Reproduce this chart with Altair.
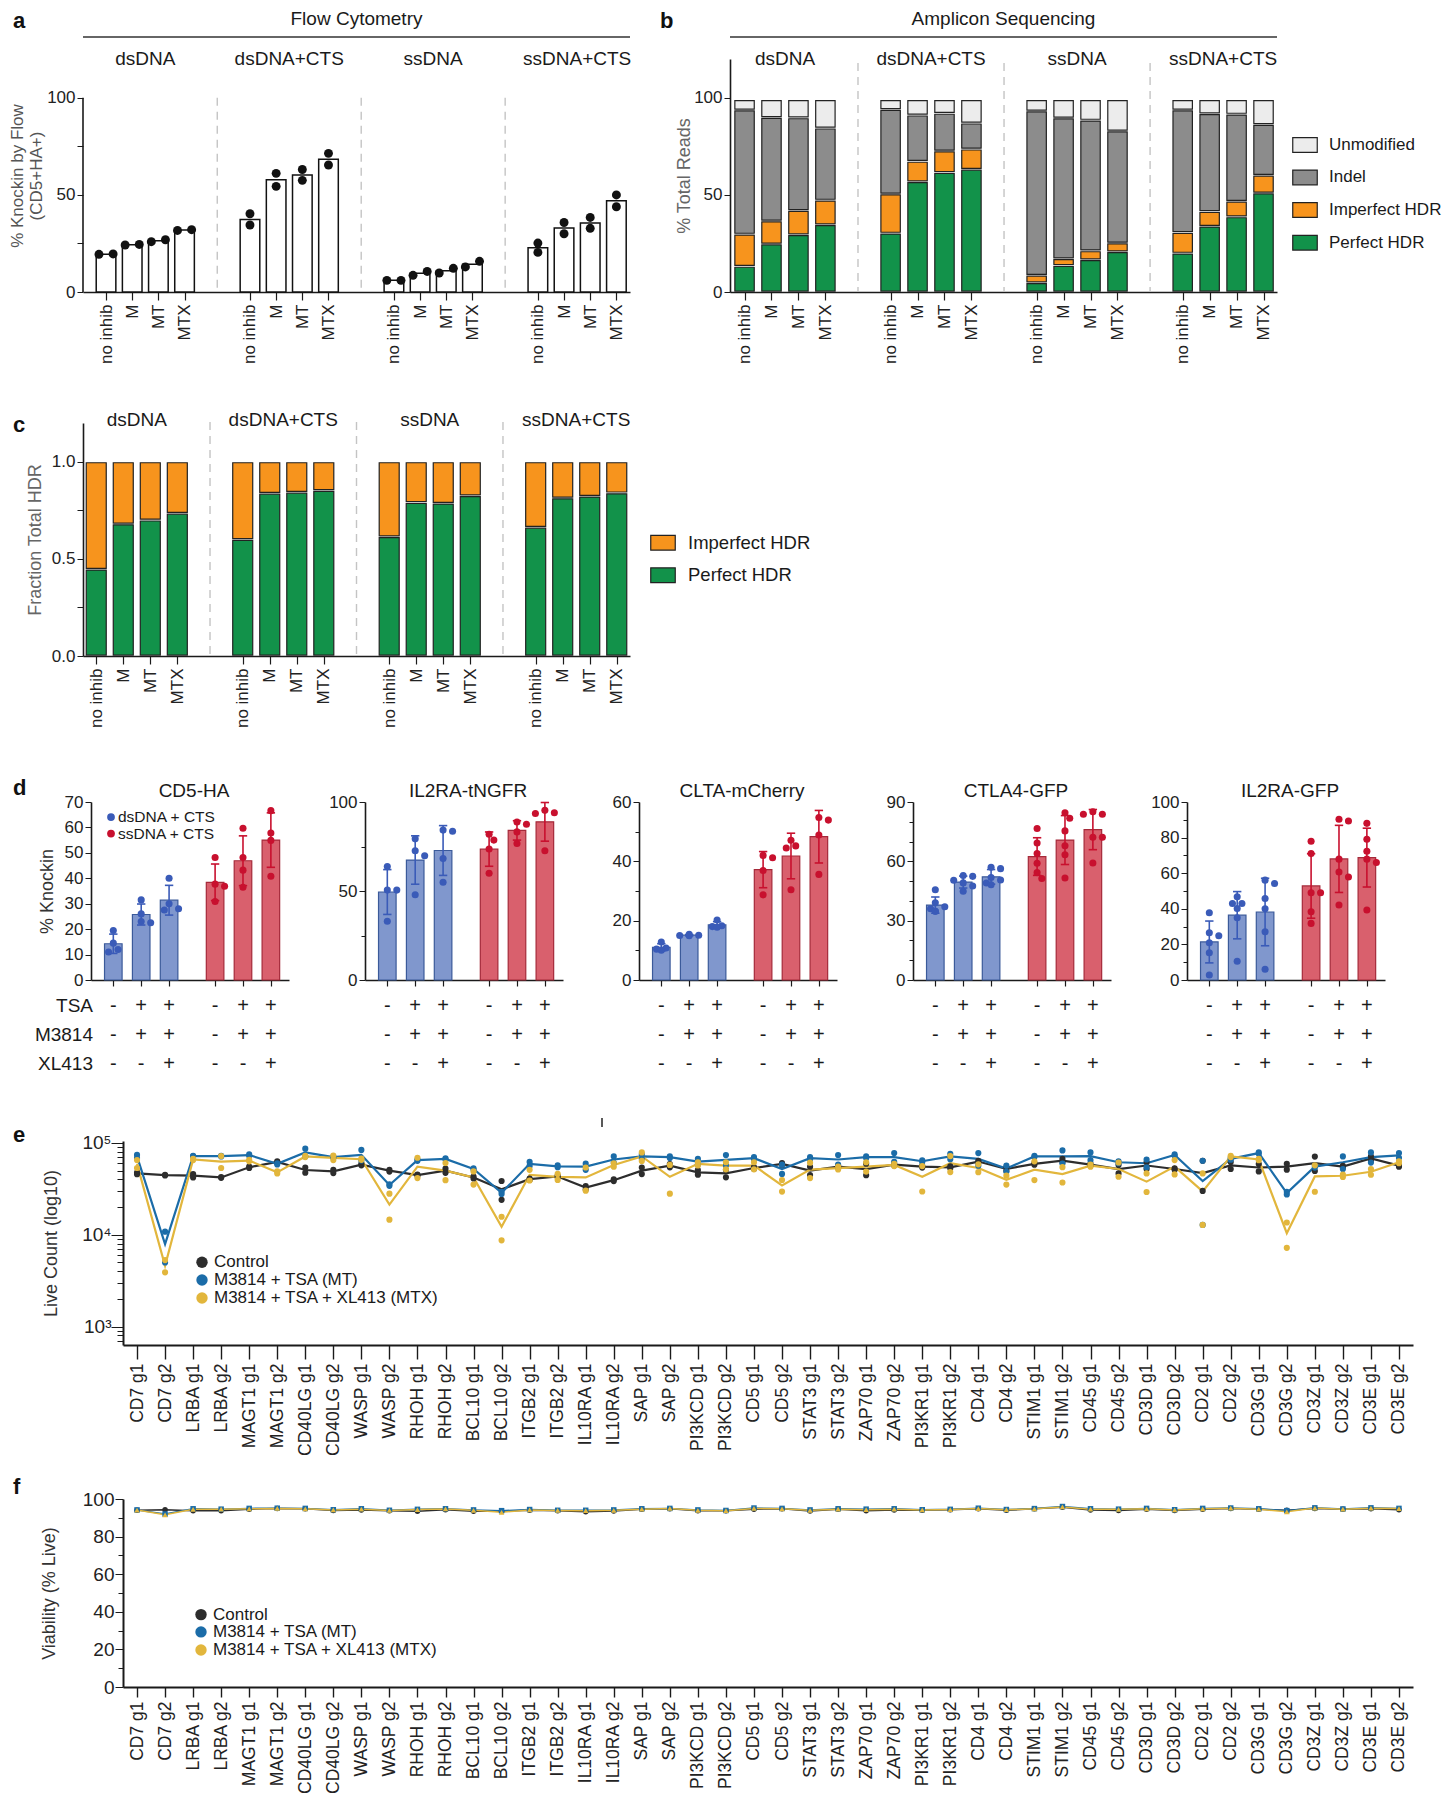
import altair as alt
import pandas as pd

FONT = "Liberation Sans, Arial, Helvetica, sans-serif"

# ---------------------------------------------------------------- data
GROUPS = ["dsDNA", "dsDNA+CTS", "ssDNA", "ssDNA+CTS"]
CONDS = ["no inhib", "M", "MT", "MTX"]

# panel a: % knockin by flow, two replicates per bar (groups x conds)
FLOW_REP1 = [19.4, 24.2, 25.9, 31.7,
             40.3, 61.1, 63.1, 71.4,
             6.0, 8.6, 9.8, 12.9,
             25.2, 35.8, 38.4, 50.0]
FLOW_REP2 = [19.6, 24.5, 26.9, 32.1,
             34.5, 54.4, 57.5, 65.4,
             6.0, 10.6, 12.2, 15.8,
             20.4, 30.0, 32.8, 43.9]

# panel b: amplicon sequencing segments (% total reads)
SEG_B = ["Perfect HDR", "Imperfect HDR", "Indel", "Unmodified"]
SEG_B_COLORS = ["#12924a", "#f7941d", "#8c8c8c", "#ececec"]
PERFECT_B = [13.2, 24.7, 29.5, 34.6, 30.3, 56.8, 61.6, 63.2,
             4.8, 13.7, 16.6, 20.7, 20.0, 33.9, 38.7, 51.0]
IMPERFECT_B = [16.6, 11.9, 12.5, 12.7, 20.2, 10.5, 11.0, 10.4,
               3.8, 3.4, 4.6, 4.5, 10.7, 7.5, 8.0, 9.1]
INDEL_B = [63.9, 53.3, 47.7, 37.1, 43.5, 23.8, 19.4, 13.4,
           84.6, 72.5, 67.3, 57.7, 63.0, 50.4, 44.9, 26.2]
UNMOD_B = [5.3, 9.1, 9.3, 14.6, 5.0, 7.9, 7.0, 12.0,
           5.8, 9.4, 10.5, 16.1, 5.3, 7.2, 7.4, 12.7]

# panel c: fraction of total HDR
PERFECT_C = [0.447, 0.680, 0.700, 0.735, 0.600, 0.838, 0.843, 0.852,
             0.614, 0.790, 0.787, 0.825, 0.663, 0.814, 0.823, 0.840]
IMPERFECT_C = [0.553, 0.320, 0.300, 0.265, 0.400, 0.162, 0.157, 0.148,
               0.386, 0.210, 0.213, 0.175, 0.337, 0.186, 0.177, 0.160]

# panel d: % knockin per locus, replicate values per bar
D_TITLES = ["CD5-HA", "IL2RA-tNGFR", "CLTA-mCherry", "CTLA4-GFP", "IL2RA-GFP"]
D_YMAX = [70, 100, 60, 90, 100]
D_TICK_STEP = [10, 25, 10, 10, 10]
D_LABEL_STEP = [10, 50, 20, 30, 20]
CD5HA_DS = [[19.5, 14.5, 12.0, 11.0], [31.5, 26.0, 23.0, 22.5], [40.0, 30.0, 28.0, 27.5]]
CD5HA_SS = [[48.2, 37.7, 36.9, 30.9], [59.7, 48.2, 43.2, 36.5], [66.6, 57.8, 54.9, 40.8]]
IL2RATNGFR_DS = [[63.7, 50.5, 50.5, 33.0], [79.3, 72.6, 69.8, 47.9], [84.2, 83.6, 68.3, 54.9]]
IL2RATNGFR_SS = [[81.9, 78.6, 73.6, 60.0], [88.8, 87.5, 83.2, 76.7], [95.3, 94.0, 93.5, 72.6]]
CLTA_DS = [[12.8, 10.8, 10.4, 10.0], [15.4, 15.1, 14.9, 15.0], [20.2, 18.3, 18.0, 17.8]]
CLTA_SS = [[42.0, 41.2, 36.9, 28.7], [47.1, 45.2, 44.5, 30.4], [54.8, 53.9, 48.9, 35.6]]
CTLA4_DS = [[45.6, 39.0, 37.0, 36.0, 34.8, 34.8], [52.8, 52.4, 50.4, 49.1, 47.5, 44.9],
            [57.0, 56.3, 51.8, 50.6, 49.0, 48.2]]
CTLA4_SS = [[76.6, 69.3, 64.0, 59.0, 54.3, 51.3], [84.6, 81.8, 75.4, 67.9, 63.3, 51.6],
            [85.1, 83.8, 83.8, 72.2, 72.2, 59.2]]
IL2RAGFP_DS = [[37.8, 26.5, 24.9, 20.9, 15.3, 2.8], [46.7, 43.0, 43.0, 40.2, 35.0, 10.5],
               [56.1, 54.2, 45.8, 40.0, 27.1, 6.0]]
IL2RAGFP_SS = [[77.9, 71.0, 49.0, 49.0, 38.3, 31.8], [90.3, 89.3, 67.9, 60.7, 57.9, 42.1],
               [88.0, 79.1, 72.3, 67.9, 66.0, 39.3]]
D_SETS = [CD5HA_DS + CD5HA_SS, IL2RATNGFR_DS + IL2RATNGFR_SS, CLTA_DS + CLTA_SS,
          CTLA4_DS + CTLA4_SS, IL2RAGFP_DS + IL2RAGFP_SS]
TSA = ["-", "+", "+", "-", "+", "+"]
M3814 = ["-", "+", "+", "-", "+", "+"]
XL413 = ["-", "-", "+", "-", "-", "+"]

# panels e / f
GUIDES = ["CD7 g1", "CD7 g2", "LRBA g1", "LRBA g2", "MAGT1 g1", "MAGT1 g2", "CD40LG g1", "CD40LG g2",
          "WASP g1", "WASP g2", "RHOH g1", "RHOH g2", "BCL10 g1", "BCL10 g2", "ITGB2 g1", "ITGB2 g2",
          "IL10RA g1", "IL10RA g2", "SAP g1", "SAP g2", "PI3KCD g1", "PI3KCD g2", "CD5 g1", "CD5 g2",
          "STAT3 g1", "STAT3 g2", "ZAP70 g1", "ZAP70 g2", "PI3KR1 g1", "PI3KR1 g2", "CD4 g1", "CD4 g2",
          "STIM1 g1", "STIM1 g2", "CD45 g1", "CD45 g2", "CD3D g1", "CD3D g2", "CD2 g1", "CD2 g2",
          "CD3G g1", "CD3G g2", "CD3Z g1", "CD3Z g2", "CD3E g1", "CD3E g2"]
E_CONDS = ["Control", "M3814 + TSA (MT)", "M3814 + TSA + XL413 (MTX)"]
E_COLORS = ["#2d2d2d", "#1b6ca8", "#e2b63c"]
# live counts in thousands, two replicates per condition
E_CTRL_R1 = [47.5, 45.0, 45.9, 42.5, 55.2, 63.2, 54.0, 51.0,
             59.2, 51.0, 45.2, 52.5, 43.1, 38.5, 41.0, 44.0,
             34.0, 40.2, 54.0, 59.0, 50.5, 51.0, 54.5, 60.5,
             55.0, 56.5, 59.5, 59.5, 56.5, 55.5, 64.0, 54.3,
             60.5, 67.0, 59.5, 57.4, 61.6, 53.0, 64.0, 62.0,
             59.0, 59.2, 71.0, 56.5, 71.3, 58.0]
E_CTRL_R2 = [45.7, 44.2, 42.1, 41.7, 53.4, 61.2, 47.4, 47.0,
             57.0, 48.8, 44.0, 47.3, 41.1, 24.0, 39.6, 42.2,
             31.2, 38.4, 45.8, 54.2, 45.1, 42.2, 52.1, 57.9,
             44.8, 53.9, 44.5, 56.7, 53.9, 53.1, 61.4, 49.9,
             57.9, 61.6, 56.7, 46.6, 52.0, 51.0, 30.0, 52.0,
             49.0, 51.2, 49.5, 53.9, 64.3, 55.2]
E_MT_R1 = [74.0, 10.8, 72.5, 72.5, 75.0, 60.1, 86.7, 71.0,
           84.0, 35.5, 66.0, 68.0, 53.0, 29.4, 62.2, 57.0,
           59.5, 71.3, 75.0, 71.5, 67.0, 73.8, 70.0, 58.0,
           70.0, 73.8, 71.3, 77.6, 64.5, 76.2, 77.6, 56.6,
           72.5, 83.0, 78.9, 63.0, 66.0, 75.0, 64.0, 68.5,
           79.0, 29.4, 56.5, 71.3, 78.9, 77.6]
E_MT_R2 = [68.6, 5.0, 71.3, 71.3, 72.6, 58.3, 71.1, 69.0,
           64.4, 34.1, 63.8, 66.2, 51.0, 27.8, 56.2, 54.4,
           51.0, 60.7, 67.6, 68.5, 58.4, 57.2, 66.6, 46.0,
           66.6, 58.2, 68.7, 62.4, 61.9, 66.4, 56.6, 48.5,
           70.1, 59.6, 64.9, 60.2, 54.2, 72.6, 12.8, 65.7,
           76.2, 27.5, 53.9, 51.9, 61.1, 68.9]
E_MTX_R1 = [65.0, 5.3, 67.0, 72.0, 65.5, 49.0, 72.5, 72.7,
            67.5, 28.0, 69.0, 60.5, 49.0, 15.7, 51.0, 46.0,
            54.0, 60.1, 78.9, 57.6, 61.6, 61.6, 61.6, 39.5,
            61.0, 55.2, 61.6, 59.2, 56.0, 72.0, 58.5, 44.0,
            63.0, 54.5, 58.0, 61.2, 46.6, 65.0, 46.6, 72.5,
            67.1, 13.6, 57.0, 45.2, 52.0, 63.2]
E_MTX_R2 = [53.4, 3.9, 65.0, 53.4, 63.1, 46.6, 70.1, 65.1,
            65.5, 14.6, 41.4, 39.3, 35.2, 8.7, 39.0, 39.6,
            30.2, 55.1, 63.7, 28.0, 56.8, 51.6, 51.6, 29.5,
            41.4, 51.4, 48.8, 56.0, 29.6, 48.2, 48.1, 35.2,
            39.4, 37.1, 55.2, 42.8, 29.2, 45.4, 12.8, 70.1,
            64.9, 7.2, 29.4, 42.6, 45.0, 60.1]
F_CTRL = [94.0, 94.3, 93.8, 93.8, 94.6, 95.0, 94.8, 93.9,
          94.2, 93.8, 93.5, 94.3, 93.5, 93.5, 94.0, 93.8,
          93.2, 93.6, 94.5, 94.8, 93.8, 93.8, 94.6, 94.8,
          93.6, 94.5, 93.7, 94.2, 94.0, 94.3, 94.8, 94.0,
          94.8, 95.6, 94.2, 93.9, 94.6, 93.9, 94.5, 95.0,
          94.5, 94.0, 95.0, 94.5, 94.8, 94.3]
F_MT = [94.2, 92.0, 94.8, 94.6, 95.0, 95.1, 95.0, 94.3,
        94.8, 94.0, 94.5, 94.8, 94.2, 93.8, 94.4, 94.0,
        94.0, 94.2, 94.8, 95.0, 94.2, 93.9, 95.2, 95.0,
        94.2, 94.8, 94.6, 94.8, 94.3, 94.5, 95.1, 94.4,
        94.9, 96.0, 94.8, 94.6, 95.0, 94.3, 95.0, 95.2,
        94.8, 93.8, 95.3, 94.7, 95.3, 95.0]
F_MTX = [94.1, 91.6, 94.5, 94.6, 94.8, 95.0, 94.8, 94.2,
         94.6, 93.9, 94.4, 94.7, 94.0, 92.9, 94.2, 93.9,
         93.8, 94.0, 94.6, 95.0, 94.0, 93.8, 95.0, 94.8,
         94.0, 94.6, 94.3, 94.6, 94.2, 94.4, 94.9, 94.3,
         94.8, 95.8, 94.6, 94.5, 94.8, 94.2, 94.8, 95.1,
         94.6, 93.2, 95.2, 94.6, 95.1, 94.9]

# ---------------------------------------------------------------- helpers
ONE = pd.DataFrame({"k": [0]})
PAGE_L, PAGE_R = 8, 1436   # left / right edge of every row's frame (page px)


def T(**kw):
    d = dict(font=FONT, color="#1a1a1a")
    d.update(kw)
    return d


def label_text(txt, x, y, **kw):
    return alt.Chart(ONE).mark_text(**T(**kw)).encode(
        x=alt.value(x), y=alt.value(y), text=alt.value(txt))


def letter(ch, x, y):
    return label_text(ch, x, y, fontSize=22, fontWeight="bold", align="left", baseline="middle", color="#111")


def spacer(w, h):
    return alt.Chart(ONE).mark_point(opacity=0).encode(
        x=alt.value(0), y=alt.value(0)).properties(width=w, height=h)


def frame(ox, oy, top, bottom):
    """invisible rectangle fixing a row's bounding box (page coords), origin at (ox, oy)"""
    return alt.Chart(ONE).mark_rect(opacity=0).encode(
        x=alt.value(PAGE_L - ox), x2=alt.value(PAGE_R - ox),
        y=alt.value(top - oy), y2=alt.value(bottom - oy))


def grouped_x(gstep, left, right):
    vals = [round(g * gstep + i, 3) for g in range(4) for i in range(4)]
    scale = alt.Scale(domain=[-left, 3 * gstep + 3 + right], nice=False, zero=False)
    expr = ("['no inhib','M','MT','MTX'][round(datum.value - floor((datum.value + 0.5) / %s) * %s)]"
            % (gstep, gstep))
    axis = alt.Axis(values=vals, labelExpr=expr, labelAngle=-90, labelFontSize=17, labelPadding=4,
                    tickSize=8, tickWidth=1.2, domainWidth=1.6, title=None, labelColor="#222")
    return vals, scale, axis


def headers(gstep, xs, xax, y):
    df = pd.DataFrame({"g": GROUPS, "gx": [g * gstep + 1.5 for g in range(4)]})
    return alt.Chart(df).mark_text(**T(fontSize=19, baseline="middle")).encode(
        x=alt.X("gx:Q", scale=xs, axis=xax), y=alt.value(y), text="g:N")


# page positions of plot origins (every row starts at x = X0)
X0 = 78
AX0, AY0 = 78, 59       # panel a (b is 100 px right of a)
CX0, CY0 = 78, 423      # panel c
DX0, DY0 = 86, 802      # first panel of d
D_GAP = 76
EX0, EY0 = 118, 1141    # panel e
FX0, FY0 = 118, 1499    # panel f
ROW_BANDS = [(8, 380), (380, 740), (740, 1100), (1100, 1468), (1468, 1790)]
LETTER_X = 8

W3, H3 = 547, 233

# ---------------------------------------------------------------- panel a
GA = 5.5
pos_a, XS_A, XAX_A = grouped_x(GA, 0.88, 0.52)
rows = []
for k in range(16):
    r1, r2 = FLOW_REP1[k], FLOW_REP2[k]
    side = abs(r1 - r2) < 4.5
    rows.append(dict(pos=pos_a[k], px=pos_a[k] - (0.27 if side else 0), val=min(r1, r2)))
    rows.append(dict(pos=pos_a[k], px=pos_a[k] + (0.27 if side else 0), val=max(r1, r2)))
df_a = pd.DataFrame(rows)
YS_A = alt.Scale(domain=[0, 120], nice=False)
YAX_A = alt.Axis(values=[0, 25, 50, 75, 100], labelExpr="datum.value % 50 == 0 ? datum.label : ''",
                 domain=False, tickSize=6, labelPadding=2, labelFontSize=17,
                 title=["% Knockin by Flow", "(CD5+HA+)"], titleFontSize=17, titlePadding=1,
                 titleColor="#555")

a_sep = alt.Chart(pd.DataFrame({"sx": [g * GA + 4.25 for g in range(3)]})).mark_rule(
    color="#c4c4c4", strokeDash=[8, 6], strokeWidth=1.4).encode(
    x=alt.X("sx:Q", scale=XS_A, axis=XAX_A), y=alt.datum(100), y2=alt.datum(0))
a_bars = alt.Chart(df_a).transform_aggregate(
    m="mean(val)", groupby=["pos"]).transform_calculate(
    x1="datum.pos - 0.375", x2="datum.pos + 0.375").mark_bar(
    fill="white", stroke="#111", strokeWidth=1.5).encode(
    x=alt.X("x1:Q", scale=XS_A, axis=XAX_A), x2="x2:Q",
    y=alt.Y("m:Q", scale=YS_A, axis=YAX_A), y2=alt.datum(0))
a_axline = alt.Chart(ONE).mark_rule(color="#1a1a1a", strokeWidth=1.6).encode(
    x=alt.value(0), y=alt.datum(0), y2=alt.datum(100))
a_pts = alt.Chart(df_a).mark_circle(size=80, color="#111", opacity=1).encode(
    x=alt.X("px:Q", scale=XS_A, axis=XAX_A), y=alt.Y("val:Q", scale=YS_A, axis=YAX_A))
chart_a = alt.layer(
    frame(AX0, AY0, *ROW_BANDS[0]),
    a_sep, a_bars, a_axline, a_pts, headers(GA, XS_A, XAX_A, 0),
    label_text("Flow Cytometry", W3 / 2, -40, fontSize=19, baseline="middle"),
    alt.Chart(ONE).mark_rule(color="#333", strokeWidth=1.6).encode(
        x=alt.value(0), x2=alt.value(W3), y=alt.value(-22)),
    letter("a", LETTER_X - AX0, -38),
).properties(width=W3, height=H3)

# ---------------------------------------------------------------- panel b
GB = 5.42
pos_b, XS_B, XAX_B = grouped_x(GB, 0.54, 0.5)
rows = []
for k in range(16):
    for o, (seg, arr) in enumerate(zip(SEG_B, [PERFECT_B, IMPERFECT_B, INDEL_B, UNMOD_B])):
        rows.append(dict(pos=pos_b[k], seg=seg, ord=o, val=arr[k]))
df_b = pd.DataFrame(rows)
YS_B = alt.Scale(domain=[0, 120], nice=False)
YAX_B = alt.Axis(values=[0, 50, 100], tickSize=6, labelPadding=2, labelFontSize=17,
                 title="% Total Reads", titleFontSize=18, titlePadding=0, titleColor="#666",
                 domainWidth=1.6)
CS_B = alt.Scale(domain=SEG_B, range=SEG_B_COLORS)
b_sep = alt.Chart(pd.DataFrame({"sx": [g * GB + 4.21 for g in range(3)]})).mark_rule(
    color="#c4c4c4", strokeDash=[8, 6], strokeWidth=1.4).encode(
    x=alt.X("sx:Q", scale=XS_B, axis=XAX_B), y=alt.value(4), y2=alt.value(H3))
b_bars = alt.Chart(df_b).transform_stack(
    stack="val", groupby=["pos"], as_=["y0", "y1"], sort=[alt.SortField("ord", order="ascending")]
).transform_calculate(x1="datum.pos - 0.36", x2="datum.pos + 0.36").mark_bar(
    stroke="#222", strokeWidth=1.2, yOffset=-0.9, y2Offset=0.9).encode(
    x=alt.X("x1:Q", scale=XS_B, axis=XAX_B), x2="x2:Q",
    y=alt.Y("y0:Q", scale=YS_B, axis=YAX_B), y2="y1:Q",
    color=alt.Color("seg:N", scale=CS_B, legend=None))
leg_b = pd.DataFrame({"seg": ["Unmodified", "Indel", "Imperfect HDR", "Perfect HDR"],
                      "ly": [75.7, 59.0, 42.2, 25.4]})
RECT = "M-1,-0.6L1,-0.6L1,0.6L-1,0.6Z"
b_leg_sym = alt.Chart(leg_b).mark_point(shape=RECT, filled=True, size=600, stroke="#222",
                                         strokeWidth=1.2, opacity=1).encode(
    x=alt.value(575), y=alt.Y("ly:Q", scale=YS_B, axis=YAX_B),
    color=alt.Color("seg:N", scale=CS_B, legend=None))
b_leg_txt = alt.Chart(leg_b).mark_text(**T(fontSize=17, align="left", baseline="middle")).encode(
    x=alt.value(599), y=alt.Y("ly:Q", scale=YS_B, axis=YAX_B), text="seg:N")
chart_b = alt.layer(
    b_sep, b_bars, headers(GB, XS_B, XAX_B, 0), b_leg_sym, b_leg_txt,
    label_text("Amplicon Sequencing", W3 / 2, -40, fontSize=19, baseline="middle"),
    alt.Chart(ONE).mark_rule(color="#333", strokeWidth=1.6).encode(
        x=alt.value(0), x2=alt.value(W3), y=alt.value(-22)),
    letter("b", -70, -38),
).properties(width=W3, height=H3)

# ---------------------------------------------------------------- panel c
GC = 5.42
pos_c, XS_C, XAX_C = grouped_x(GC, 0.49, 0.49)
SEG_C = ["Perfect HDR", "Imperfect HDR"]
rows = []
for k in range(16):
    rows.append(dict(pos=pos_c[k], seg="Perfect HDR", ord=0, val=PERFECT_C[k]))
    rows.append(dict(pos=pos_c[k], seg="Imperfect HDR", ord=1, val=IMPERFECT_C[k]))
df_c = pd.DataFrame(rows)
YS_C = alt.Scale(domain=[0, 1.2], nice=False)
YAX_C = alt.Axis(values=[0, 0.25, 0.5, 0.75, 1.0], format=".1f",
                 labelExpr="datum.value == 0.25 || datum.value == 0.75 ? '' : datum.label",
                 tickSize=6, labelPadding=2, labelFontSize=17, title="Fraction Total HDR",
                 titleFontSize=18, titlePadding=7, titleColor="#666", domainWidth=1.6)
CS_C = alt.Scale(domain=SEG_C, range=["#12924a", "#f7941d"])
c_sep = alt.Chart(pd.DataFrame({"sx": [g * GC + 4.21 for g in range(3)]})).mark_rule(
    color="#c4c4c4", strokeDash=[8, 6], strokeWidth=1.4).encode(
    x=alt.X("sx:Q", scale=XS_C, axis=XAX_C), y=alt.value(-1), y2=alt.value(H3))
c_bars = alt.Chart(df_c).transform_stack(
    stack="val", groupby=["pos"], as_=["y0", "y1"], sort=[alt.SortField("ord", order="ascending")]
).transform_calculate(x1="datum.pos - 0.37", x2="datum.pos + 0.37").mark_bar(
    stroke="#222", strokeWidth=1.2, yOffset=-0.9, y2Offset=0.9).encode(
    x=alt.X("x1:Q", scale=XS_C, axis=XAX_C), x2="x2:Q",
    y=alt.Y("y0:Q", scale=YS_C, axis=YAX_C), y2="y1:Q",
    color=alt.Color("seg:N", scale=CS_C, legend=None))
leg_c = pd.DataFrame({"seg": ["Imperfect HDR", "Perfect HDR"], "ly": [0.583, 0.416]})
c_leg_sym = alt.Chart(leg_c).mark_point(shape=RECT, filled=True, size=600, stroke="#222",
                                         strokeWidth=1.2, opacity=1).encode(
    x=alt.value(580), y=alt.Y("ly:Q", scale=YS_C, axis=YAX_C),
    color=alt.Color("seg:N", scale=CS_C, legend=None))
c_leg_txt = alt.Chart(leg_c).mark_text(**T(fontSize=18.5, align="left", baseline="middle")).encode(
    x=alt.value(605), y=alt.Y("ly:Q", scale=YS_C, axis=YAX_C), text="seg:N")
chart_c = alt.layer(
    frame(CX0, CY0, *ROW_BANDS[1]),
    c_sep, c_bars, headers(GC, XS_C, XAX_C, -3), c_leg_sym, c_leg_txt,
    letter("c", LETTER_X - CX0, 2),
).properties(width=W3, height=H3)

# ---------------------------------------------------------------- panel d
D_POS = [0, 1, 2, 3.65, 4.65, 5.65]
WD, HD = 198, 178
XS_D = alt.Scale(domain=[-0.8, 6.3], nice=False, zero=False)
XAX_D = alt.Axis(values=D_POS, labels=False, tickSize=6, tickWidth=1.2, domainWidth=1.6, title=None)
DGRP = ["dsDNA + CTS", "ssDNA + CTS"]
C_PT = alt.Scale(domain=DGRP, range=["#3a5bb8", "#c8102e"])
C_FILL = alt.Scale(domain=DGRP, range=["#8097cd", "#d9606d"])
C_STROKE = alt.Scale(domain=DGRP, range=["#3b5a9a", "#a52a3a"])


def d_panel(i):
    ymax = D_YMAX[i]
    ppu = HD / ymax
    step_px = WD / 7.1
    rows = []
    for j, reps in enumerate(D_SETS[i]):
        grp = DGRP[0] if j < 3 else DGRP[1]
        placed = []
        for v in sorted(reps, reverse=True):
            chosen = 0
            for off in (0, 0.17, -0.17, 0.34, -0.34):
                if all(((off - po) * step_px) ** 2 + ((v - pv) * ppu) ** 2 >= 7.0 ** 2
                       for po, pv in placed):
                    chosen = off
                    break
            placed.append((chosen, v))
            rows.append(dict(pos=D_POS[j], px=D_POS[j] + chosen, val=v, grp=grp))
    df = pd.DataFrame(rows)
    ticks = list(range(0, ymax + 1, D_TICK_STEP[i]))
    lstep = D_LABEL_STEP[i]
    ys = alt.Scale(domain=[0, ymax], nice=False)
    yax = alt.Axis(values=ticks, labelExpr="datum.value %% %d == 0 ? datum.label : ''" % lstep,
                   tickSize={"condition": {"test": "datum.value %% %d == 0" % lstep, "value": 6},
                             "value": 4},
                   labelPadding=2, labelFontSize=17, domainWidth=1.6,
                   title="% Knockin" if i == 0 else None, titleFontSize=18, titlePadding=8,
                   titleColor="#333")
    agg = alt.Chart(df).transform_aggregate(
        m="mean(val)", s="stdev(val)", groupby=["pos", "grp"]).transform_calculate(
        x1="datum.pos - 0.315", x2="datum.pos + 0.315", lo="datum.m - datum.s",
        hi="datum.m + datum.s", c1="datum.pos - 0.15", c2="datum.pos + 0.15")
    bars = agg.mark_bar(strokeWidth=1.2).encode(
        x=alt.X("x1:Q", scale=XS_D, axis=XAX_D), x2="x2:Q",
        y=alt.Y("m:Q", scale=ys, axis=yax), y2=alt.datum(0),
        fill=alt.Fill("grp:N", scale=C_FILL, legend=None),
        stroke=alt.Stroke("grp:N", scale=C_STROKE, legend=None))
    err = agg.mark_rule(strokeWidth=1.6).encode(
        x=alt.X("pos:Q", scale=XS_D, axis=XAX_D), y=alt.Y("lo:Q", scale=ys, axis=yax), y2="hi:Q",
        color=alt.Color("grp:N", scale=C_PT, legend=None))
    cap_hi = agg.mark_rule(strokeWidth=1.6).encode(
        x=alt.X("c1:Q", scale=XS_D, axis=XAX_D), x2="c2:Q", y=alt.Y("hi:Q", scale=ys, axis=yax),
        color=alt.Color("grp:N", scale=C_PT, legend=None))
    cap_lo = agg.mark_rule(strokeWidth=1.6).encode(
        x=alt.X("c1:Q", scale=XS_D, axis=XAX_D), x2="c2:Q", y=alt.Y("lo:Q", scale=ys, axis=yax),
        color=alt.Color("grp:N", scale=C_PT, legend=None))
    pts = alt.Chart(df).mark_circle(size=50, opacity=1).encode(
        x=alt.X("px:Q", scale=XS_D, axis=XAX_D), y=alt.Y("val:Q", scale=ys, axis=yax),
        color=alt.Color("grp:N", scale=C_PT, legend=None))
    layers = []
    if i == 0:
        layers.append(frame(DX0, DY0, *ROW_BANDS[2]))
    layers += [bars, err, cap_hi, cap_lo, pts,
               label_text(D_TITLES[i], WD / 2 + 4, -11, fontSize=19, baseline="middle")]
    for lab, syms, dy in (("TSA", TSA, 26), ("M3814", M3814, 55), ("XL413", XL413, 84)):
        sdf = pd.DataFrame({"pos": D_POS, "sym": syms})
        layers.append(alt.Chart(sdf).mark_text(**T(fontSize=20, baseline="middle")).encode(
            x=alt.X("pos:Q", scale=XS_D, axis=XAX_D), y=alt.value(HD + dy), text="sym:N"))
        if i == 0:
            layers.append(label_text(lab, 2, HD + dy, fontSize=19, align="right", baseline="middle"))
    if i == 0:
        leg = pd.DataFrame({"grp": DGRP, "ly": [64.1, 57.6]})
        layers.append(alt.Chart(leg).mark_circle(size=60, opacity=1).encode(
            x=alt.value(20), y=alt.Y("ly:Q", scale=ys, axis=yax),
            color=alt.Color("grp:N", scale=C_PT, legend=None)))
        layers.append(alt.Chart(leg).mark_text(**T(fontSize=15.5, align="left", baseline="middle")).encode(
            x=alt.value(27), y=alt.Y("ly:Q", scale=ys, axis=yax), text="grp:N"))
        layers.append(letter("d", LETTER_X - DX0, -14))
    return alt.layer(*layers).properties(width=WD, height=HD)


# ---------------------------------------------------------------- panels e, f
WE = 1290
HE, HF = 204, 188
rows = []
for idx, g in enumerate(GUIDES):
    for cond, r1, r2 in ((E_CONDS[0], E_CTRL_R1, E_CTRL_R2), (E_CONDS[1], E_MT_R1, E_MT_R2),
                         (E_CONDS[2], E_MTX_R1, E_MTX_R2)):
        rows.append(dict(guide=g, idx=idx, cond=cond, val=r1[idx] * 1000))
        rows.append(dict(guide=g, idx=idx, cond=cond, val=r2[idx] * 1000))
df_e = pd.DataFrame(rows)
CE = alt.Scale(domain=E_CONDS, range=E_COLORS)
XS_E = alt.Scale(type="point", padding=0.5, domain=GUIDES)


def guide_axis(ts):
    return alt.Axis(labelAngle=-90, labelFontSize=17.5, tickSize=ts, tickWidth=1.4, labelPadding=4,
                    domainWidth=2, title=None, labelColor="#222")


XAX_E = guide_axis(14)
E_TICKS = [700, 800, 900] + [k * 1000 for k in range(1, 10)] + [k * 10000 for k in range(1, 10)] + [100000]
YS_E = alt.Scale(type="log", domain=[630, 105000], nice=False)
YAX_E = alt.Axis(values=E_TICKS,
                 labelExpr="datum.value == 1000 ? '10³' : datum.value == 10000 ? '10⁴' : "
                           "datum.value == 100000 ? '10⁵' : ''",
                 tickSize={"condition": {"test": "datum.value == 1000 || datum.value == 10000 || "
                                                 "datum.value == 100000", "value": 12}, "value": 6},
                 labelPadding=0, labelFontSize=19, domainWidth=2, title="Live Count (log10)",
                 titleFontSize=18, titlePadding=21, titleColor="#333")
e_lines = alt.Chart(df_e).mark_line(strokeWidth=2.2).encode(
    x=alt.X("guide:N", scale=XS_E, axis=XAX_E, sort=GUIDES),
    y=alt.Y("mean(val):Q", scale=YS_E, axis=YAX_E),
    color=alt.Color("cond:N", scale=CE, legend=None), order=alt.Order("idx:Q"))
e_pts = alt.Chart(df_e).mark_circle(size=38, opacity=1).encode(
    x=alt.X("guide:N", scale=XS_E, axis=XAX_E, sort=GUIDES),
    y=alt.Y("val:Q", scale=YS_E, axis=YAX_E),
    color=alt.Color("cond:N", scale=CE, legend=None))
leg_e = pd.DataFrame({"cond": E_CONDS, "ly": [5010, 3213, 2051]})
e_leg_sym = alt.Chart(leg_e).mark_circle(size=130, opacity=1).encode(
    x=alt.value(79), y=alt.Y("ly:Q", scale=YS_E, axis=YAX_E),
    color=alt.Color("cond:N", scale=CE, legend=None))
e_leg_txt = alt.Chart(leg_e).mark_text(**T(fontSize=17, align="left", baseline="middle")).encode(
    x=alt.value(91), y=alt.Y("ly:Q", scale=YS_E, axis=YAX_E), text="cond:N")
chart_e = alt.layer(
    frame(EX0, EY0, *ROW_BANDS[3]),
    e_lines, e_pts, e_leg_sym, e_leg_txt,
    alt.Chart(ONE).mark_rule(color="#222", strokeWidth=1.5).encode(
        x=alt.value(479), y=alt.value(-23), y2=alt.value(-14)),
    letter("e", LETTER_X - EX0, -6),
).properties(width=WE, height=HE)

rows = []
for idx, g in enumerate(GUIDES):
    for cond, arr in zip(E_CONDS, [F_CTRL, F_MT, F_MTX]):
        rows.append(dict(guide=g, idx=idx, cond=cond, val=arr[idx]))
df_f = pd.DataFrame(rows)
XAX_F = guide_axis(10)
YS_F = alt.Scale(domain=[0, 100], nice=False)
YAX_F = alt.Axis(values=list(range(0, 101, 10)),
                 labelExpr="datum.value % 20 == 0 ? datum.label : ''",
                 tickSize={"condition": {"test": "datum.value % 20 == 0", "value": 8}, "value": 5},
                 labelPadding=1, labelFontSize=19, domainWidth=2, title="Viability (% Live)",
                 titleFontSize=18, titlePadding=24, titleColor="#333")
SH_F = alt.Scale(domain=E_CONDS, range=["circle", "square", "triangle-up"])
f_lines = alt.Chart(df_f).mark_line(strokeWidth=1.5).encode(
    x=alt.X("guide:N", scale=XS_E, axis=XAX_F, sort=GUIDES),
    y=alt.Y("val:Q", scale=YS_F, axis=YAX_F),
    color=alt.Color("cond:N", scale=CE, legend=None), order=alt.Order("idx:Q"))
f_pts = alt.Chart(df_f).mark_point(size=30, filled=True, opacity=1).encode(
    x=alt.X("guide:N", scale=XS_E, axis=XAX_F, sort=GUIDES),
    y=alt.Y("val:Q", scale=YS_F, axis=YAX_F),
    color=alt.Color("cond:N", scale=CE, legend=None),
    shape=alt.Shape("cond:N", scale=SH_F, legend=None))
leg_f = pd.DataFrame({"cond": E_CONDS, "ly": [38.5, 29.3, 19.7]})
f_leg_sym = alt.Chart(leg_f).mark_circle(size=130, opacity=1).encode(
    x=alt.value(78), y=alt.Y("ly:Q", scale=YS_F, axis=YAX_F),
    color=alt.Color("cond:N", scale=CE, legend=None))
f_leg_txt = alt.Chart(leg_f).mark_text(**T(fontSize=17, align="left", baseline="middle")).encode(
    x=alt.value(90), y=alt.Y("ly:Q", scale=YS_F, axis=YAX_F), text="cond:N")
chart_f = alt.layer(
    frame(FX0, FY0, *ROW_BANDS[4]),
    f_lines, f_pts, f_leg_sym, f_leg_txt, letter("f", LETTER_X - FX0, -12),
).properties(width=WE, height=HF)

# ---------------------------------------------------------------- layout
# every row starts with its plot origin at page x = X0; leading spacers shift the panels
row1 = alt.hconcat(chart_a, spacer(100, 1), chart_b, spacing=0, bounds="flush")
d_items = [spacer(DX0 - X0, 1)]
for i in range(5):
    if i > 0:
        d_items.append(spacer(D_GAP, 1))
    d_items.append(d_panel(i))
row3 = alt.hconcat(*d_items, spacing=0, bounds="flush")
row4 = alt.hconcat(spacer(EX0 - X0, 1), chart_e, spacing=0, bounds="flush")
row5 = alt.hconcat(spacer(FX0 - X0, 1), chart_f, spacing=0, bounds="flush")

chart = alt.vconcat(
    row1, chart_c, row3, row4, row5, spacing=0, bounds="full",
).resolve_scale(
    color="independent", fill="independent", stroke="independent", shape="independent"
).properties(
    padding=0
).configure_view(
    stroke=None
).configure_axis(
    grid=False, labelFont=FONT, titleFont=FONT, titleFontWeight="normal",
    domainColor="#1a1a1a", tickColor="#1a1a1a", labelColor="#222",
)

chart.save("out.html", embed_options={"renderer": "svg", "actions": False})
